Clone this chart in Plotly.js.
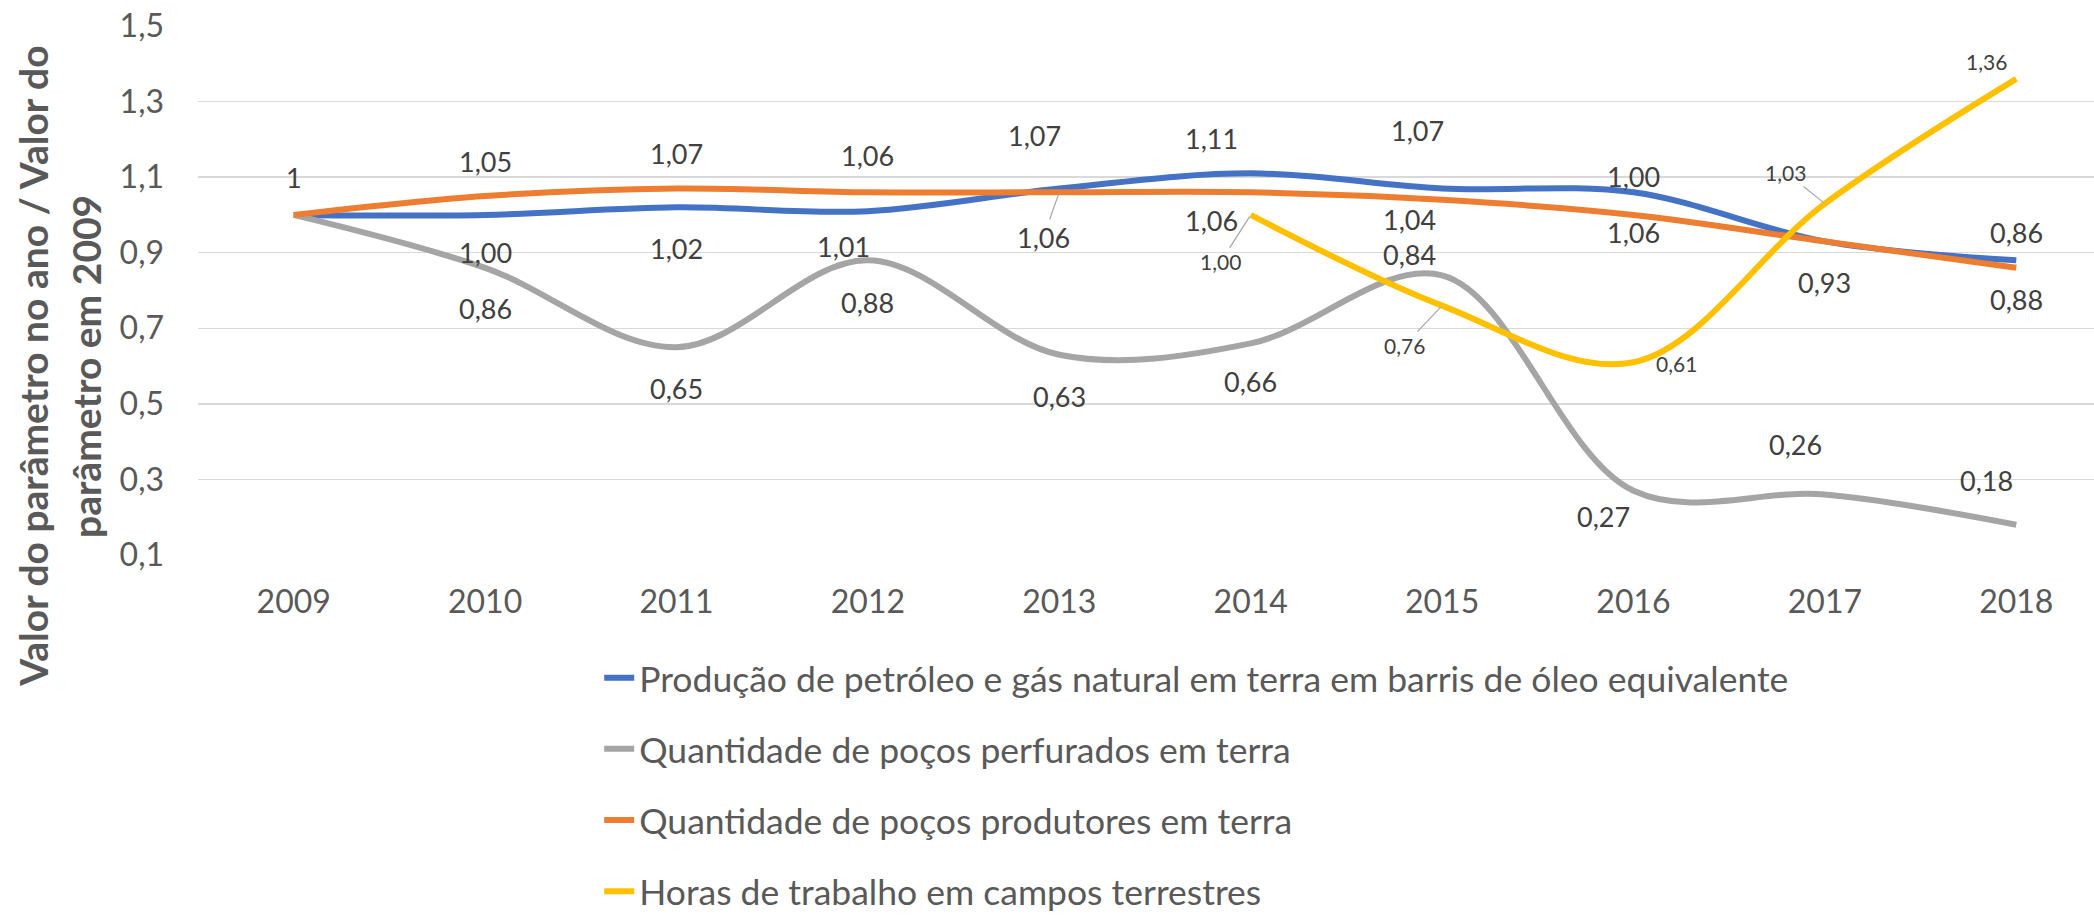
<!DOCTYPE html>
<html>
<head>
<meta charset="utf-8">
<script src="https://cdn.plot.ly/plotly-3.0.1.min.js"></script>
<style>
  html, body { margin: 0; padding: 0; background: #fff; }
  #chart { width: 2094px; height: 919px; }
</style>
</head>
<body>
<div id="chart"></div>
<script>
// years on the category axis
var years = [2009, 2010, 2011, 2012, 2013, 2014, 2015, 2016, 2017, 2018];

// values relative to 2009
var producao   = [1, 1.00, 1.02, 1.01, 1.07, 1.11, 1.07, 1.06, 0.93, 0.88];
var perfurados = [1, 0.86, 0.65, 0.88, 0.63, 0.66, 0.84, 0.27, 0.26, 0.18];
var produtores = [1, 1.05, 1.07, 1.06, 1.06, 1.06, 1.04, 1.00, 0.93, 0.86];
var horas      = [null, null, null, null, null, 1.00, 0.76, 0.61, 1.03, 1.36];

var seriesNames = [
  "Produção de petróleo e gás natural em terra em barris de óleo equivalente",
  "Quantidade de poços perfurados em terra",
  "Quantidade de poços produtores em terra",
  "Horas de trabalho em campos terrestres"
];
var colors = ["#4472C4", "#A5A5A5", "#ED7D31", "#FFC000"];

// where each data label sits, in px from its point: [dx, dy(down), leader line?]
var offProducao   = [[0,-37],[0,38],[0,41],[-24,35],[-25,-53],[-39,-35],[-25,-58],[0,40],[0,41],[0,39]];
var offPerfurados = [null,[0,41],[0,41],[0,42],[0,42],[0,38],[-33,-21],[-30,26],[-29,-50],[-30,-44]];
var offProdutores = [null,[0,-35],[0,-35],[0,-37],[-16,45,1],[-39,28],[-33,20],[0,-38],null,[0,-35]];
var offHoras      = [null,null,null,null,null,[-30,47,1],[-38,40,1],[43,1],[-39,-31,1],[-30,-17]];

var FONT = "Lato, 'Open Sans', sans-serif";

function fmt(v, i) {
  if (i === 0) return "1";
  return v.toFixed(2).replace(".", ",");
}

var allValues = [producao, perfurados, produtores, horas];
var allOffsets = [offProducao, offPerfurados, offProdutores, offHoras];
var labelSizes = [27, 27, 27, 21];

var traces = [];
for (var s = 0; s < allValues.length; s++) {
  traces.push({
    x: years,
    y: allValues[s],
    name: seriesNames[s],
    legendgroup: "g" + s,
    type: "scatter",
    mode: "lines",
    connectgaps: false,
    line: { color: colors[s], width: 6, shape: "spline", smoothing: 1 },
    hoverinfo: "skip"
  });
}

var annotations = [];
for (var s = 0; s < allValues.length; s++) {
  var vals = allValues[s];
  var offs = allOffsets[s];
  for (var i = 0; i < years.length; i++) {
    if (vals[i] === null || !offs[i]) continue;
    var o = offs[i];
    var a = {
      x: years[i], y: vals[i], xref: "x", yref: "y",
      text: fmt(vals[i], i),
      font: { family: FONT, size: labelSizes[s], color: "#404040" },
      xanchor: "center", yanchor: "middle"
    };
    if (o[2]) {
      a.showarrow = true;
      a.arrowhead = 0;
      a.arrowwidth = 1.2;
      a.arrowcolor = "#A6A6A6";
      a.standoff = 2;
      a.ax = o[0];
      a.ay = o[1];
    } else {
      a.showarrow = false;
      a.xshift = o[0];
      a.yshift = -o[1];
    }
    annotations.push(a);
  }
}

// y axis title, two centred lines
var titleLines = ["Valor do parâmetro no ano / Valor do", "parâmetro em 2009"];
var titleX = [-0.0872, -0.0592];
for (var k = 0; k < titleLines.length; k++) {
  annotations.push({
    xref: "paper", yref: "paper", x: titleX[k], y: 0.357,
    text: "<b>" + titleLines[k] + "</b>",
    textangle: -90, showarrow: false,
    xanchor: "center", yanchor: "middle",
    font: { family: FONT, size: 39, color: "#595959" }
  });
}

var layout = {
  width: 2094,
  height: 919,
  margin: { l: 198, r: 0, t: 26, b: 364, autoexpand: false },
  paper_bgcolor: "#ffffff",
  plot_bgcolor: "#ffffff",
  separators: ",.",
  showlegend: true,
  hovermode: false,
  xaxis: {
    range: [2008.5, 2018.406],
    tickvals: years,
    ticks: "",
    showgrid: false,
    zeroline: false,
    showline: false,
    automargin: false,
    ticklabelstandoff: 25,
    tickfont: { family: FONT, size: 32, color: "#595959" }
  },
  yaxis: {
    range: [0.1, 1.5],
    tick0: 0.1,
    dtick: 0.2,
    tickformat: ".1f",
    ticks: "",
    gridcolor: "#D9D9D9",
    gridwidth: 1.5,
    zeroline: false,
    showline: false,
    automargin: false,
    ticklabelstandoff: 33,
    tickfont: { family: FONT, size: 32, color: "#595959" }
  },
  legend: {
    orientation: "v",
    x: 0.2116,
    y: -0.176,
    xanchor: "left",
    yanchor: "top",
    traceorder: "grouped",
    tracegroupgap: 22,
    font: { family: FONT, size: 35.5, color: "#595959" },
    bgcolor: "rgba(0,0,0,0)"
  },
  annotations: annotations
};

Plotly.newPlot("chart", traces, layout, { displayModeBar: false, staticPlot: true });
</script>
</body>
</html>
